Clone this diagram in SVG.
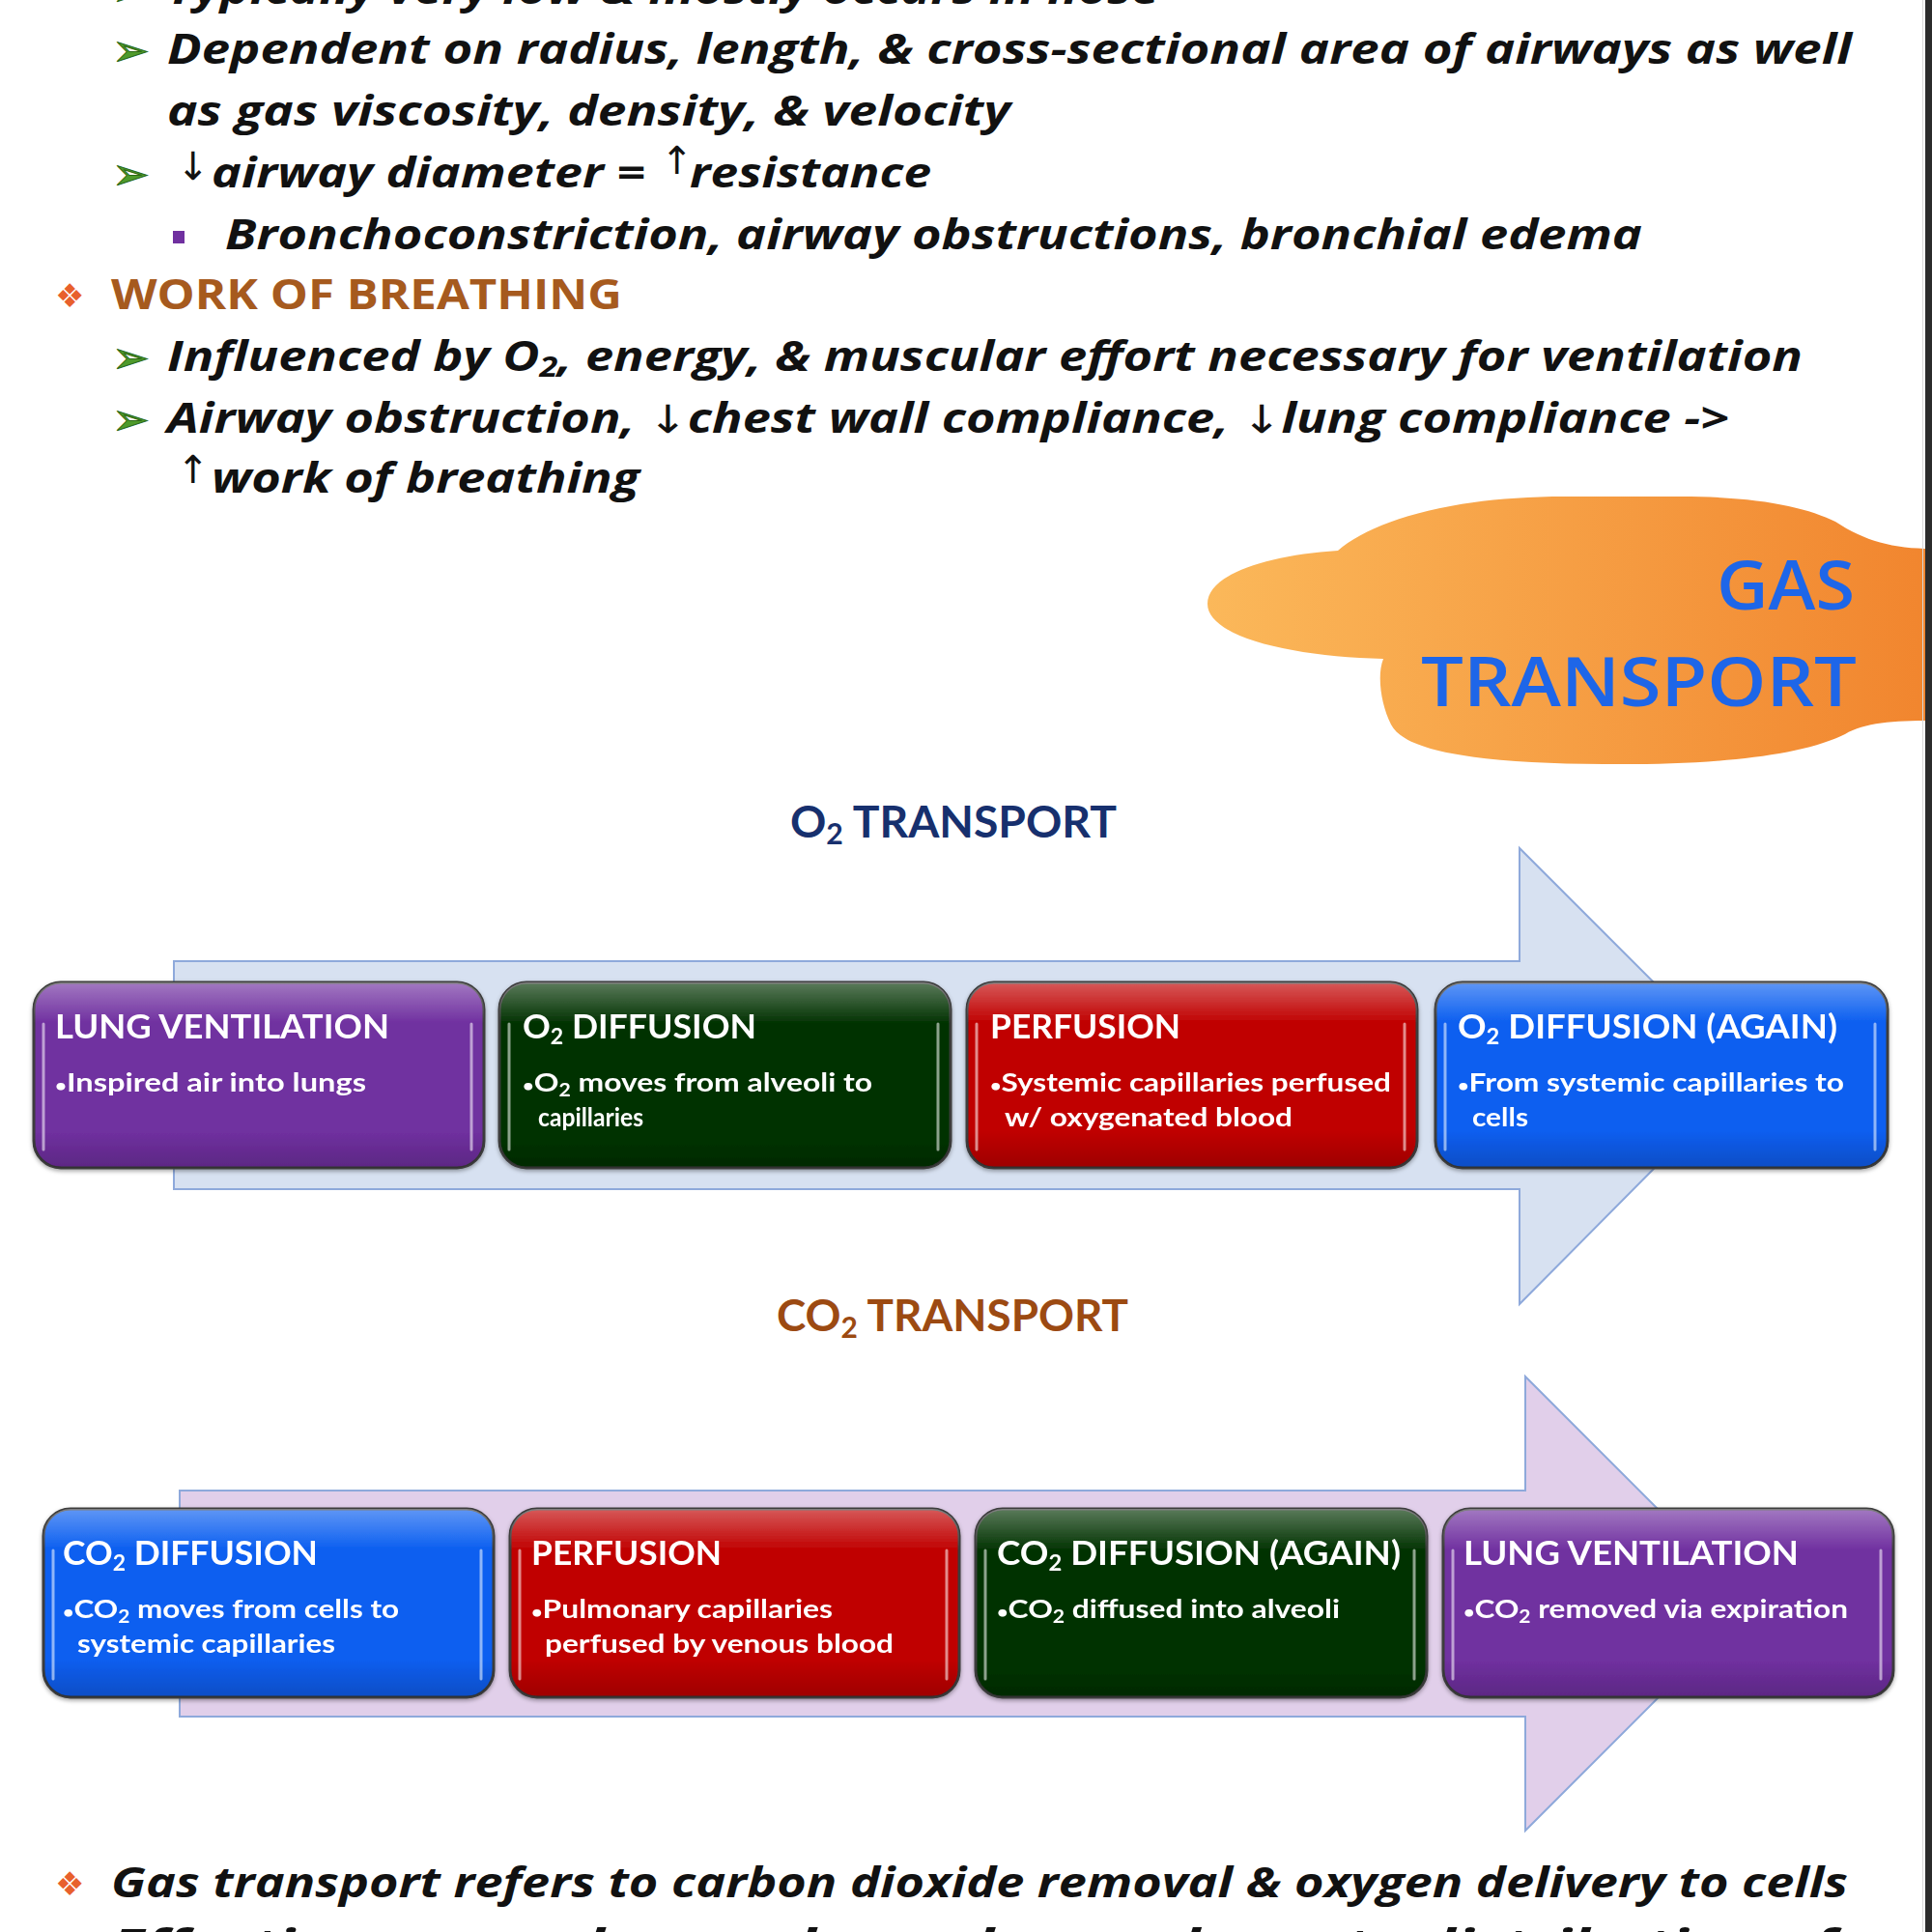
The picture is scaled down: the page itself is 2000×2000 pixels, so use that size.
<svg xmlns="http://www.w3.org/2000/svg" width="2000" height="2000" viewBox="0 0 2000 2000">
<defs>
<linearGradient id="cloudGrad" x1="1250" y1="0" x2="2000" y2="0" gradientUnits="userSpaceOnUse">
<stop offset="0" stop-color="#FBB85A"/>
<stop offset="1" stop-color="#F1852E"/>
</linearGradient>
<linearGradient id="gloss" x1="0" y1="0" x2="0" y2="1">
<stop offset="0" stop-color="#fff" stop-opacity="0.35"/>
<stop offset="0.22" stop-color="#fff" stop-opacity="0"/>
<stop offset="0.8" stop-color="#000" stop-opacity="0"/>
<stop offset="1" stop-color="#000" stop-opacity="0.18"/>
</linearGradient>
<filter id="shadow" x="-5%" y="-5%" width="110%" height="115%">
<feDropShadow dx="0" dy="2" stdDeviation="2" flood-color="#000" flood-opacity="0.35"/>
</filter>
</defs>
<style>
.body{font-family:"Open Sans","DejaVu Sans",sans-serif;font-weight:700;font-style:italic;font-size:43px;fill:#111}
.arr{font-family:"DejaVu Sans",sans-serif;font-weight:400;font-size:40px;fill:#111}
.chev{font-family:"DejaVu Sans",sans-serif;font-size:46px;fill:#4E9A2C;stroke:#2D6A16;stroke-width:1}
.dia{font-family:"DejaVu Sans",sans-serif;font-size:34px;fill:#E8602C}
.head{font-family:"Open Sans","DejaVu Sans",sans-serif;font-weight:700;font-size:43px;fill:#A65A1E}
.gas{font-family:"Open Sans","DejaVu Sans",sans-serif;font-weight:600;font-size:70px;fill:#1E66E8}
.sec{font-family:Lato,"Liberation Sans",sans-serif;font-weight:700;font-size:46px}
.box{stroke:#3C3C3C;stroke-width:3}
.shine{stroke:#fff;stroke-opacity:0.55;stroke-width:3;stroke-linecap:round}
.bt{font-family:Lato,"Liberation Sans",sans-serif;font-weight:700;font-size:34px;fill:#fff}
.bb{font-family:Lato,"Liberation Sans",sans-serif;font-weight:700;font-size:27px;fill:#fff}
.dot{font-size:17px}
.arrowShape{stroke:#8EA9DB;stroke-width:2}
</style>
<rect width="2000" height="2000" fill="#fff"/>

<g id="text-top">
<text class="chev" x="116" y="6">➢</text>
<text class="body" x="173" y="4" textLength="1027" lengthAdjust="spacingAndGlyphs">Typically very low &amp; mostly occurs in nose</text>
<text class="chev" x="116" y="68">➢</text>
<text class="body" x="173" y="66" textLength="1744" lengthAdjust="spacingAndGlyphs">Dependent on radius, length, &amp; cross-sectional area of airways as well</text>
<text class="body" x="173" y="130" textLength="873" lengthAdjust="spacingAndGlyphs">as gas viscosity, density, &amp; velocity</text>
<text class="chev" x="116" y="196">➢</text>
<text class="arr" x="183" y="186">↓</text>
<text class="body" x="219" y="194" textLength="449" lengthAdjust="spacingAndGlyphs">airway diameter =</text>
<text class="arr" x="684" y="180">↑</text>
<text class="body" x="714" y="194" textLength="250" lengthAdjust="spacingAndGlyphs">resistance</text>
<rect x="179" y="239" width="12" height="13" fill="#7030A0"/>
<text class="body" x="233" y="258" textLength="1467" lengthAdjust="spacingAndGlyphs">Bronchoconstriction, airway obstructions, bronchial edema</text>
<text class="dia" x="57" y="318">❖</text>
<text class="head" x="115" y="320" textLength="529" lengthAdjust="spacingAndGlyphs">WORK OF BREATHING</text>
<text class="chev" x="116" y="386">➢</text>
<text class="body" x="173" y="384" textLength="1693" lengthAdjust="spacingAndGlyphs">Influenced by O<tspan font-size="28" dy="6">2</tspan><tspan dy="-6">, energy, &amp; muscular effort necessary for ventilation</tspan></text>
<text class="chev" x="116" y="450">➢</text>
<text class="body" x="173" y="448" textLength="1617" lengthAdjust="spacingAndGlyphs">Airway obstruction, <tspan class="arr" font-style="normal">↓</tspan>chest wall compliance, <tspan class="arr" font-style="normal">↓</tspan>lung compliance -&gt;</text>
<text class="arr" x="183" y="500">↑</text>
<text class="body" x="219" y="510" textLength="443" lengthAdjust="spacingAndGlyphs">work of breathing</text>
</g>

<g id="gas-transport-cloud">
<path d="M 1250 625 C 1250 595 1310 575 1385 570 C 1420 540 1500 514 1620 514 L 1740 514 C 1820 514 1870 525 1900 540 C 1930 560 1960 568 2000 568 L 2000 746 C 1960 746 1930 748 1910 760 C 1860 785 1760 792 1660 791 C 1540 790 1455 780 1440 750 C 1430 730 1425 700 1432 682 C 1340 680 1250 660 1250 625 Z" fill="url(#cloudGrad)"/>
<text class="gas" x="1920" y="631" text-anchor="end" textLength="143" lengthAdjust="spacingAndGlyphs">GAS</text>
<text class="gas" x="1471" y="731" textLength="451" lengthAdjust="spacingAndGlyphs">TRANSPORT</text>
</g>

<g id="o2-title">
<text class="sec" x="818" y="867" fill="#17306E" textLength="338" lengthAdjust="spacingAndGlyphs">O<tspan font-size="30" dy="7">2</tspan><tspan dy="-7"> TRANSPORT</tspan></text>
</g>
<g id="co2-title">
<text class="sec" x="804" y="1378" fill="#9C4A12" textLength="364" lengthAdjust="spacingAndGlyphs">CO<tspan font-size="30" dy="7">2</tspan><tspan dy="-7"> TRANSPORT</tspan></text>
</g>

<g id="connectors">
<polygon class="arrowShape" fill="#D7E1F1" points="180,995 1573,995 1573,878 1808,1113 1573,1350 1573,1231 180,1231"/>
<polygon class="arrowShape" fill="#E1CFEA" points="186,1543 1579,1543 1579,1425 1814,1660 1579,1895 1579,1777 186,1777"/>
</g>

<g id="o2-lung-ventilation" filter="url(#shadow)">
<rect class="box" x="35" y="1017" width="466" height="192" rx="28" fill="#7030A0"/>
<rect x="35" y="1017" width="466" height="192" rx="28" fill="url(#gloss)"/>
<line class="shine" x1="45" y1="1060" x2="45" y2="1190"/><line class="shine" x1="488" y1="1060" x2="488" y2="1190"/>
<text class="bt" x="57" y="1075" textLength="346" lengthAdjust="spacingAndGlyphs">LUNG VENTILATION</text>
<text class="bb" x="57" y="1130" textLength="322" lengthAdjust="spacingAndGlyphs"><tspan class="dot">•</tspan>Inspired air into lungs</text>
</g>
<g id="o2-diffusion" filter="url(#shadow)">
<rect class="box" x="517" y="1017" width="467" height="192" rx="28" fill="#023302"/>
<rect x="517" y="1017" width="467" height="192" rx="28" fill="url(#gloss)"/>
<line class="shine" x1="527" y1="1060" x2="527" y2="1190"/><line class="shine" x1="971" y1="1060" x2="971" y2="1190"/>
<text class="bt" x="541" y="1075" textLength="242" lengthAdjust="spacingAndGlyphs">O<tspan font-size="22" dy="6">2</tspan><tspan dy="-6"> DIFFUSION</tspan></text>
<text class="bb" x="541" y="1130" textLength="362" lengthAdjust="spacingAndGlyphs"><tspan class="dot">•</tspan>O<tspan font-size="18" dy="5">2</tspan><tspan dy="-5"> moves from alveoli to</tspan></text>
<text class="bb" x="557" y="1166" textLength="109" lengthAdjust="spacingAndGlyphs">capillaries</text>
</g>
<g id="o2-perfusion" filter="url(#shadow)">
<rect class="box" x="1001" y="1017" width="466" height="192" rx="28" fill="#C00000"/>
<rect x="1001" y="1017" width="466" height="192" rx="28" fill="url(#gloss)"/>
<line class="shine" x1="1011" y1="1060" x2="1011" y2="1190"/><line class="shine" x1="1454" y1="1060" x2="1454" y2="1190"/>
<text class="bt" x="1025" y="1075" textLength="197" lengthAdjust="spacingAndGlyphs">PERFUSION</text>
<text class="bb" x="1025" y="1130" textLength="415" lengthAdjust="spacingAndGlyphs"><tspan class="dot">•</tspan>Systemic capillaries perfused</text>
<text class="bb" x="1040" y="1166" textLength="298" lengthAdjust="spacingAndGlyphs">w/ oxygenated blood</text>
</g>
<g id="o2-diffusion-again" filter="url(#shadow)">
<rect class="box" x="1486" y="1017" width="468" height="192" rx="28" fill="#0A5EF0"/>
<rect x="1486" y="1017" width="468" height="192" rx="28" fill="url(#gloss)"/>
<line class="shine" x1="1496" y1="1060" x2="1496" y2="1190"/><line class="shine" x1="1941" y1="1060" x2="1941" y2="1190"/>
<text class="bt" x="1509" y="1075" textLength="393" lengthAdjust="spacingAndGlyphs">O<tspan font-size="22" dy="6">2</tspan><tspan dy="-6"> DIFFUSION (AGAIN)</tspan></text>
<text class="bb" x="1509" y="1130" textLength="400" lengthAdjust="spacingAndGlyphs"><tspan class="dot">•</tspan>From systemic capillaries to</text>
<text class="bb" x="1524" y="1166" textLength="58" lengthAdjust="spacingAndGlyphs">cells</text>
</g>

<g id="co2-diffusion" filter="url(#shadow)">
<rect class="box" x="45" y="1562" width="466" height="195" rx="28" fill="#0A5EF0"/>
<rect x="45" y="1562" width="466" height="195" rx="28" fill="url(#gloss)"/>
<line class="shine" x1="55" y1="1605" x2="55" y2="1738"/><line class="shine" x1="498" y1="1605" x2="498" y2="1738"/>
<text class="bt" x="65" y="1620" textLength="264" lengthAdjust="spacingAndGlyphs">CO<tspan font-size="22" dy="6">2</tspan><tspan dy="-6"> DIFFUSION</tspan></text>
<text class="bb" x="65" y="1675" textLength="348" lengthAdjust="spacingAndGlyphs"><tspan class="dot">•</tspan>CO<tspan font-size="18" dy="5">2</tspan><tspan dy="-5"> moves from cells to</tspan></text>
<text class="bb" x="80" y="1711" textLength="267" lengthAdjust="spacingAndGlyphs">systemic capillaries</text>
</g>
<g id="co2-perfusion" filter="url(#shadow)">
<rect class="box" x="528" y="1562" width="465" height="195" rx="28" fill="#C00000"/>
<rect x="528" y="1562" width="465" height="195" rx="28" fill="url(#gloss)"/>
<line class="shine" x1="538" y1="1605" x2="538" y2="1738"/><line class="shine" x1="980" y1="1605" x2="980" y2="1738"/>
<text class="bt" x="550" y="1620" textLength="197" lengthAdjust="spacingAndGlyphs">PERFUSION</text>
<text class="bb" x="550" y="1675" textLength="312" lengthAdjust="spacingAndGlyphs"><tspan class="dot">•</tspan>Pulmonary capillaries</text>
<text class="bb" x="564" y="1711" textLength="361" lengthAdjust="spacingAndGlyphs">perfused by venous blood</text>
</g>
<g id="co2-diffusion-again" filter="url(#shadow)">
<rect class="box" x="1010" y="1562" width="467" height="195" rx="28" fill="#023302"/>
<rect x="1010" y="1562" width="467" height="195" rx="28" fill="url(#gloss)"/>
<line class="shine" x1="1020" y1="1605" x2="1020" y2="1738"/><line class="shine" x1="1464" y1="1605" x2="1464" y2="1738"/>
<text class="bt" x="1032" y="1620" textLength="418" lengthAdjust="spacingAndGlyphs">CO<tspan font-size="22" dy="6">2</tspan><tspan dy="-6"> DIFFUSION (AGAIN)</tspan></text>
<text class="bb" x="1032" y="1675" textLength="355" lengthAdjust="spacingAndGlyphs"><tspan class="dot">•</tspan>CO<tspan font-size="18" dy="5">2</tspan><tspan dy="-5"> diffused into alveoli</tspan></text>
</g>
<g id="co2-lung-ventilation" filter="url(#shadow)">
<rect class="box" x="1494" y="1562" width="466" height="195" rx="28" fill="#7030A0"/>
<rect x="1494" y="1562" width="466" height="195" rx="28" fill="url(#gloss)"/>
<line class="shine" x1="1504" y1="1605" x2="1504" y2="1738"/><line class="shine" x1="1947" y1="1605" x2="1947" y2="1738"/>
<text class="bt" x="1515" y="1620" textLength="347" lengthAdjust="spacingAndGlyphs">LUNG VENTILATION</text>
<text class="bb" x="1515" y="1675" textLength="398" lengthAdjust="spacingAndGlyphs"><tspan class="dot">•</tspan>CO<tspan font-size="18" dy="5">2</tspan><tspan dy="-5"> removed via expiration</tspan></text>
</g>

<g id="text-bottom">
<text class="dia" x="57" y="1962">❖</text>
<text class="body" x="115" y="1964" textLength="1798" lengthAdjust="spacingAndGlyphs">Gas transport refers to carbon dioxide removal &amp; oxygen delivery to cells</text>
<text class="dia" x="57" y="2026">❖</text>
<text class="body" x="115" y="2028" textLength="1785" lengthAdjust="spacingAndGlyphs">Effective gas exchange depends on adequate distribution of</text>
</g>

<line x1="1990.5" y1="0" x2="1990.5" y2="2000" stroke="#D8D8D8" stroke-width="1"/>
<rect x="1993" y="0" width="7" height="2000" fill="#2B2B2B"/>
</svg>
